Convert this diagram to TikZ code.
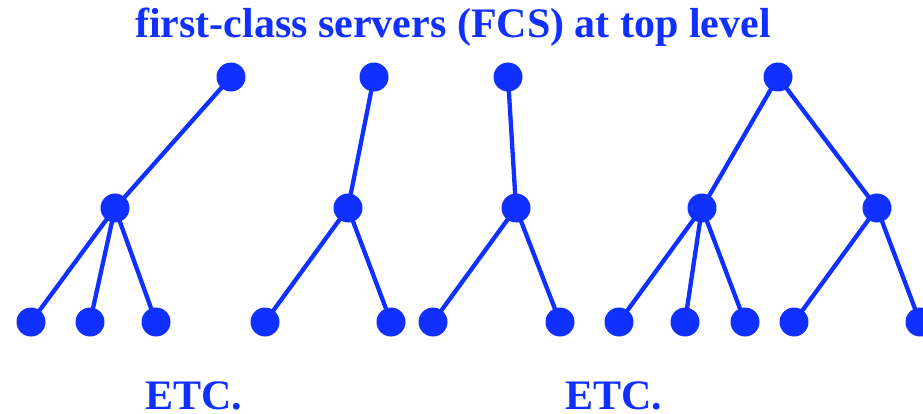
\documentclass[tikz,border=0pt]{standalone}
\usepackage{fontspec}
\setmainfont{Liberation Serif}
\definecolor{fcsblue}{RGB}{16,48,255}
\begin{document}
\begin{tikzpicture}[x=1pt,y=-1pt,
  dot/.style={circle,fill=fcsblue,inner sep=0pt,minimum size=29pt},
  edge/.style={draw=fcsblue,line width=4.3pt},
  lbl/.style={text=fcsblue,font=\bfseries,inner sep=0pt,text depth=0pt}]
\useasboundingbox (0,0) rectangle (923,414);
\clip (0,0) rectangle (923,414);
\node[lbl,font=\bfseries\fontsize{42}{44}\selectfont,anchor=base] (title) at (453,38) {first-class servers (FCS) at top level};
\node[lbl,font=\bfseries\fontsize{42}{44}\selectfont,anchor=base] (etc1) at (194,409) {ETC.};
\node[lbl,font=\bfseries\fontsize{42}{44}\selectfont,anchor=base] (etc2) at (614,409) {ETC.};
% tree 1
\node[dot] (a0) at (231,77) {};
\node[dot] (a1) at (115,208) {};
\node[dot] (a2) at (31,322) {};
\node[dot] (a3) at (90,322) {};
\node[dot] (a4) at (156,322) {};
% tree 2
\node[dot] (b0) at (374,77) {};
\node[dot] (b1) at (348,208) {};
\node[dot] (b2) at (265,322) {};
\node[dot] (b3) at (391,322) {};
% tree 3
\node[dot] (c0) at (508,77) {};
\node[dot] (c1) at (516,208) {};
\node[dot] (c2) at (433,322) {};
\node[dot] (c3) at (560,322) {};
% tree 4
\node[dot] (d0) at (778,77) {};
\node[dot] (d1) at (702,208) {};
\node[dot] (d2) at (877,208) {};
\node[dot] (d3) at (619,322) {};
\node[dot] (d4) at (685,322) {};
\node[dot] (d5) at (745,322) {};
\node[dot] (d6) at (794,322) {};
\node[dot] (d7) at (920,322) {};
\draw[edge] (a0.center) -- (a1.center) (a1.center) -- (a2.center) (a1.center) -- (a3.center) (a1.center) -- (a4.center);
\draw[edge] (b0.center) -- (b1.center) (b1.center) -- (b2.center) (b1.center) -- (b3.center);
\draw[edge] (c0.center) -- (c1.center) (c1.center) -- (c2.center) (c1.center) -- (c3.center);
\draw[edge] (d0.center) -- (d1.center) (d0.center) -- (d2.center) (d1.center) -- (d3.center) (d1.center) -- (d4.center) (d1.center) -- (d5.center) (d2.center) -- (d6.center) (d2.center) -- (d7.center);
\end{tikzpicture}
\end{document}
